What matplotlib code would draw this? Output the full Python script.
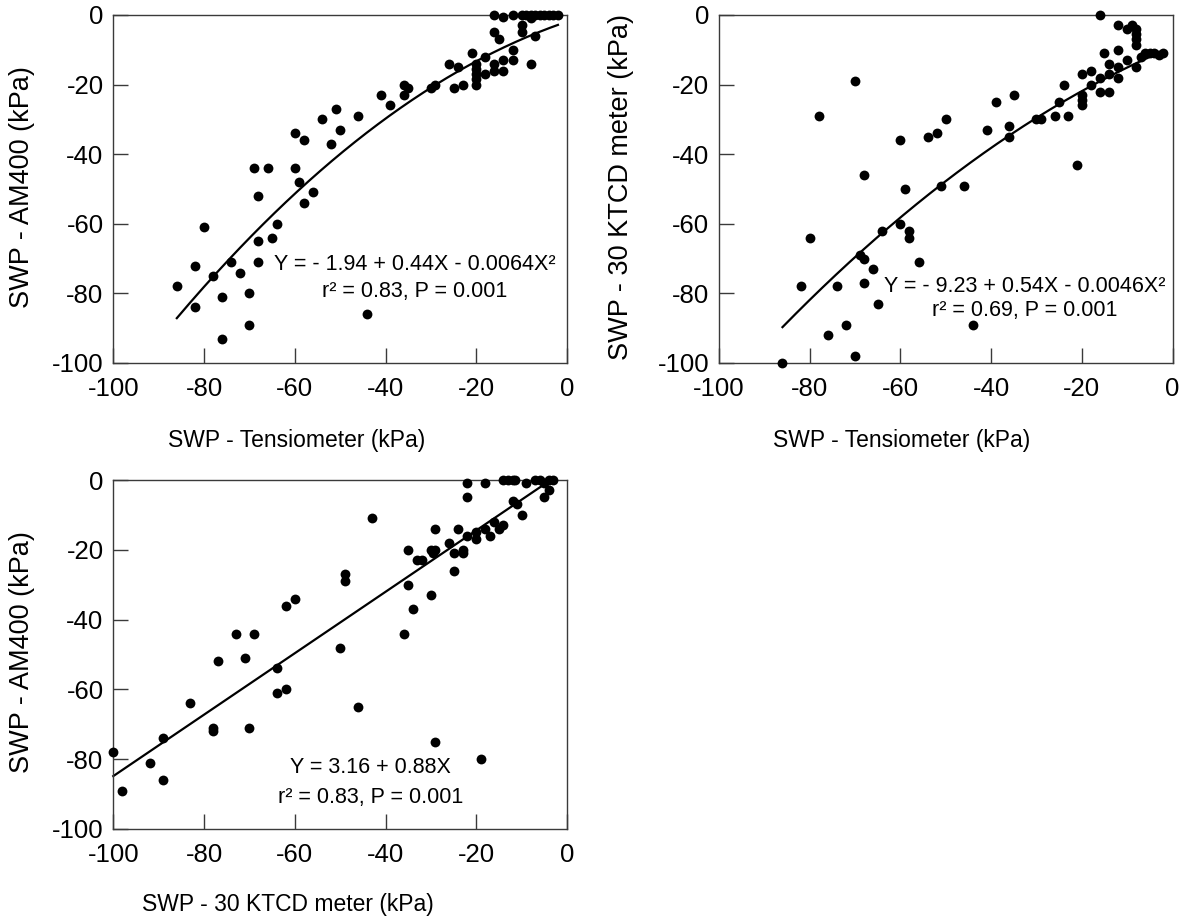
import matplotlib
matplotlib.use("Agg")
import matplotlib.pyplot as plt
import numpy as np

plt.rcParams['font.family'] = ['Liberation Sans', 'DejaVu Sans']

# ---- Panel A: Tensiometer vs AM400 ----
tens_a = [-86, -82, -82, -80, -78, -76, -76, -74, -72, -70, -70, -69, -68, -68, -68, -66, -65, -64,
          -60, -60, -59, -58, -58, -56, -54, -52, -51, -50, -46, -44, -41, -39, -36, -35, -36, -30,
          -29, -26, -24, -25, -23, -21, -20, -20, -20, -20, -20, -18, -18, -16, -16, -14, -14, -12,
          -12, -8, -16, -15, -10, -10, -7, -8, -16, -14, -12, -10, -9, -8, -7, -6, -5, -4, -3, -2]
am400_a = [-78, -72, -84, -61, -75, -81, -93, -71, -74, -80, -89, -44, -52, -65, -71, -44, -64, -60,
           -34, -44, -48, -36, -54, -51, -30, -37, -27, -33, -29, -86, -23, -26, -20, -21, -23, -21,
           -20, -14, -15, -21, -20, -11, -14, -15.5, -17, -18.5, -20, -12, -17, -14, -16, -13, -16, -10,
           -13, -14, -5, -7, -3, -5, -6, -1, 0, -0.5, 0, 0, 0, 0, 0, 0, 0, 0, 0, 0]
coef_a = [-1.94, 0.44, -0.0064]
range_a = [-86, -2]

# ---- Panel B: Tensiometer vs 30 KTCD meter ----
tens_b = [-86, -82, -80, -78, -76, -74, -72, -70, -70, -69, -68, -68, -68, -66, -65, -64, -60, -60,
          -59, -58, -58, -56, -54, -52, -51, -50, -46, -44, -41, -39, -36, -36, -35, -30, -29, -26,
          -25, -24, -23, -21, -20, -20, -20, -20, -18, -18, -16, -16, -16, -15, -14, -14, -14, -12,
          -12, -12, -12, -10, -10, -9, -8, -8, -8, -8, -8, -7, -6, -5, -4, -3, -2]
ktcd_b = [-100, -78, -64, -29, -92, -78, -89, -19, -98, -69, -70, -46, -77, -73, -83, -62, -36, -60,
          -50, -62, -64, -71, -35, -34, -49, -30, -49, -89, -33, -25, -32, -35, -23, -30, -30, -29,
          -25, -20, -29, -43, -17, -23, -24.5, -26, -16, -20, -18, -22, 0, -11, -17, -14, -22, -3,
          -10, -15, -18, -4, -13, -3, -4, -5.5, -7, -8.5, -15, -12, -11, -11, -11, -11.5, -11]
coef_b = [-9.23, 0.54, -0.0046]
range_b = [-86, -2]

# ---- Panel C: 30 KTCD meter vs AM400 ----
ktcd_c = [-100, -98, -92, -89, -89, -83, -78, -78, -77, -73, -71, -70, -69, -64, -64, -62, -62, -60,
          -50, -49, -49, -46, -43, -36, -35, -35, -34, -33, -32, -30, -30, -29, -29.5, -29, -29, -26,
          -25, -25, -24, -23, -23, -22, -22, -22, -20, -20, -19, -18, -18, -17, -16, -15, -14, -12,
          -11, -10, -14, -13, -12, -11.5, -9, -7, -6, -5, -5, -4, -4, -3]
am400_c = [-78, -89, -81, -74, -86, -64, -71, -72, -52, -44, -51, -71, -44, -54, -61, -60, -36, -34,
           -48, -27, -29, -65, -11, -44, -20, -30, -37, -23, -23, -20, -33, -20, -21, -14, -75, -18,
           -21, -26, -14, -20, -21, -16, -5, -1, -15, -17, -80, -1, -14, -16, -12, -14, -13, -6,
           -7, -10, 0, 0, 0, 0, -1, 0, 0, -5, -1, -3, 0, 0]
coef_c = [3.16, 0.88]
range_c = [-100, -3.6]

ticks = [-100, -80, -60, -40, -20, 0]
tick_labels = ['-100', '-80', '-60', '-40', '-20', '0']

W, H = 1185, 923
fig = plt.figure(figsize=(W / 100, H / 100), dpi=100)


def ax_at(left, top, right, bottom):
    return fig.add_axes([left / W, 1 - bottom / H, (right - left) / W, (bottom - top) / H])


TICK_FS = 18.5
XLABEL_FS = 16.5
YLABEL_FS = 19.5
EQ_FS = 15.5
SPINE_C = '#3a3a3a'
DOT = 50


def style(ax):
    ax.set_xlim(-100, 0)
    ax.set_ylim(-100, 0)
    ax.set_xticks(ticks)
    ax.set_xticklabels(tick_labels)
    ax.set_yticks(ticks)
    ax.set_yticklabels(tick_labels)
    ax.tick_params(axis='both', direction='in', length=11, width=1, color=SPINE_C,
                   labelsize=TICK_FS, labelcolor='black')
    ax.tick_params(axis='x', pad=10)
    ax.tick_params(axis='y', pad=7)
    for s in ax.spines.values():
        s.set_color(SPINE_C)
        s.set_linewidth(1.0)


def curve(ax, coef, rng):
    xs = np.linspace(rng[0], rng[1], 200)
    ys = np.zeros_like(xs)
    for i, c in enumerate(coef):
        ys = ys + c * xs ** i
    ax.plot(xs, ys, color='black', lw=1.6, zorder=2, clip_on=False)


# Panel A
axA = ax_at(113.3, 15, 567, 363)
style(axA)
axA.scatter(tens_a, am400_a, s=DOT, color='black', zorder=3, clip_on=False, linewidths=0)
curve(axA, coef_a, range_a)
axA.text(-33.5, -73.3, 'Y = - 1.94 + 0.44X - 0.0064X²', fontsize=EQ_FS, ha='center', va='baseline')
axA.text(-33.5, -81.0, 'r² = 0.83, P = 0.001', fontsize=EQ_FS, ha='center', va='baseline')

# Panel B
axB = ax_at(719, 15, 1172.5, 363)
style(axB)
axB.scatter(tens_b, ktcd_b, s=DOT, color='black', zorder=3, clip_on=False, linewidths=0)
curve(axB, coef_b, range_b)
axB.text(-32.7, -79.6, 'Y = - 9.23 + 0.54X - 0.0046X²', fontsize=EQ_FS, ha='center', va='baseline')
axB.text(-32.7, -86.5, 'r² = 0.69, P = 0.001', fontsize=EQ_FS, ha='center', va='baseline')

# Panel C
axC = ax_at(113.3, 480, 567, 829)
style(axC)
axC.scatter(ktcd_c, am400_c, s=DOT, color='black', zorder=3, clip_on=False, linewidths=0)
curve(axC, coef_c, range_c)
axC.text(-43.3, -84.0, 'Y = 3.16 + 0.88X', fontsize=EQ_FS, ha='center', va='baseline')
axC.text(-43.3, -92.6, 'r² = 0.83, P = 0.001', fontsize=EQ_FS, ha='center', va='baseline')


def ftext(x, y, s, fs, rot=0):
    fig.text(x / W, 1 - y / H, s, fontsize=fs, ha='center', va='center', rotation=rot)


ftext(22, 187, 'SWP - AM400 (kPa)', YLABEL_FS, 90)
ftext(621, 187, 'SWP - 30 KTCD meter (kPa)', YLABEL_FS, 90)
ftext(22, 652, 'SWP - AM400 (kPa)', YLABEL_FS, 90)
ftext(297, 441, 'SWP - Tensiometer (kPa)', XLABEL_FS)
ftext(902, 441, 'SWP - Tensiometer (kPa)', XLABEL_FS)
ftext(288, 905, 'SWP - 30 KTCD meter (kPa)', XLABEL_FS)

fig.savefig('out.png', dpi=100)
